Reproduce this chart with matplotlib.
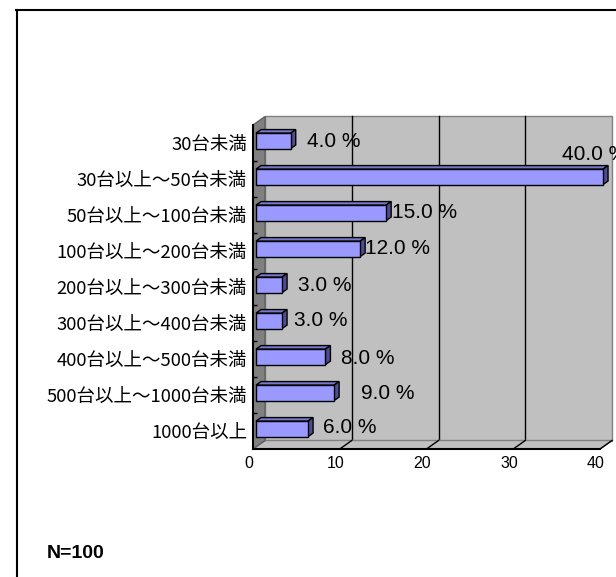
import matplotlib
matplotlib.use('Agg')
import matplotlib.pyplot as plt
from matplotlib.transforms import Affine2D, IdentityTransform
from matplotlib.patches import Polygon, Rectangle
from matplotlib.lines import Line2D
import numpy as np

# ---------------- data ----------------
categories = ['30台未満', '30台以上～50台未満', '50台以上～100台未満',
              '100台以上～200台未満', '200台以上～300台未満', '300台以上～400台未満',
              '400台以上～500台未満', '500台以上～1000台未満', '1000台以上']
values = [4.0, 40.0, 15.0, 12.0, 3.0, 3.0, 8.0, 9.0, 6.0]
x_ticks = [0, 10, 20, 30, 40]
sample_note = 'N=100'

# ---------------- layout / style ----------------
label_dx_px = [16, -41, 6, 5, 16, 12, 16, 27, 15]
label_dy_px = [-1, 22, 0, 0, -1, 0, -2, -1, 1]

plt.rcParams['font.family'] = ['Liberation Sans', 'Noto Sans CJK JP', 'DejaVu Sans']

W, H = 616, 577
fig = plt.figure(figsize=(W / 100, H / 100), dpi=100)
fig.patch.set_facecolor('white')

L, R, B, T = 253, 600, 449, 125
ax = fig.add_axes([L / W, 1 - B / H, (R - L) / W, (B - T) / H])
ax.set_xlim(0, 40)
ax.set_ylim(8.5, -0.5)
ax.patch.set_visible(False)

DX, DY = 12, 8.5


def off(f):
    return ax.transData + Affine2D().translate(f * DX, f * DY)


def P(x, y, f):
    px, py = ax.transData.transform((x, y))
    return (px + f * DX, py + f * DY)


def poly(pts, **kw):
    p = Polygon(pts, closed=True, transform=IdentityTransform(), clip_on=False, **kw)
    ax.add_patch(p)
    return p


# back wall
ax.add_patch(Rectangle((0, -0.5), 40, 9, transform=off(1), facecolor='#c0c0c0',
                       edgecolor='#808080', lw=1, zorder=0, clip_on=False))
for t in x_ticks[1:-1]:
    ax.plot([t, t], [-0.5, 8.5], transform=off(1), color='black', lw=1, zorder=1,
            clip_on=False)

# floor
poly([P(0, 8.5, 0), P(40, 8.5, 0), P(40, 8.5, 1), P(0, 8.5, 1)],
     facecolor='#c0c0c0', edgecolor='#808080', lw=1, zorder=1)
for t in x_ticks[1:]:
    a, b = P(t, 8.5, 0), P(t, 8.5, 1)
    ax.add_line(Line2D([a[0], b[0]], [a[1], b[1]], transform=IdentityTransform(),
                       color='black', lw=1, zorder=2, clip_on=False))

# left wall
poly([P(0, -0.5, 0), P(0, 8.5, 0), P(0, 8.5, 1), P(0, -0.5, 1)],
     facecolor='#808080', edgecolor='#606060', lw=1, zorder=1)

# bars
f0, f1, h = 0.25, 0.67, 0.43
ypos = np.arange(len(categories))
ax.barh(ypos, values, height=h, left=0, color='#9999ff', edgecolor='black', lw=1,
        transform=off(f0), zorder=5, clip_on=False)
for i, v in enumerate(values):
    top = i - h / 2
    bot = i + h / 2
    poly([P(0, top, f0), P(v, top, f0), P(v, top, f1), P(0, top, f1)],
         facecolor='#7777cc', edgecolor='black', lw=1, zorder=4)
    poly([P(v, top, f0), P(v, bot, f0), P(v, bot, f1), P(v, top, f1)],
         facecolor='#4d4d8f', edgecolor='black', lw=1, zorder=4)
    ax.text(v, i, f'{v:.1f} %',
            transform=off(f0) + Affine2D().translate(label_dx_px[i], label_dy_px[i]),
            ha='left', va='center', fontsize=15,
            family=['Liberation Sans Narrow', 'Liberation Sans'], zorder=6,
            clip_on=False)

# spines / ticks
for s in ['top', 'right']:
    ax.spines[s].set_visible(False)
for s in ['left', 'bottom']:
    ax.spines[s].set_color('black')
    ax.spines[s].set_linewidth(1.5)
    ax.spines[s].set_zorder(3)

ax.set_xticks(x_ticks)
ax.set_xticklabels([str(t) for t in x_ticks])
ax.tick_params(axis='x', length=0, pad=5, labelsize=11.5)
ax.set_yticks(ypos)
ax.set_yticklabels(categories, family=['Noto Sans CJK JP', 'DejaVu Sans'], fontsize=13.3)
ax.tick_params(axis='y', which='major', length=0, pad=4.3)
ax.set_yticks(np.arange(0.5, 8, 1), minor=True)
ax.tick_params(axis='y', which='minor', length=3, width=1, direction='in', color='black')

for lbl in ax.get_xticklabels():
    lbl.set_transform(lbl.get_transform() + Affine2D().translate(-4, 0))

# outer frame
fig.add_artist(Line2D([16 / W, 1], [1 - 9.5 / H, 1 - 9.5 / H], transform=fig.transFigure,
                      color='black', lw=1.5))
fig.add_artist(Line2D([16.5 / W, 16.5 / W], [0, 1 - 9.5 / H], transform=fig.transFigure,
                      color='black', lw=1.5))

fig.text(47 / W, 1 - 553.5 / H, sample_note, fontsize=14, fontweight='bold',
         ha='left', va='center', family='Liberation Sans')

fig.savefig('out.png', dpi=100)
